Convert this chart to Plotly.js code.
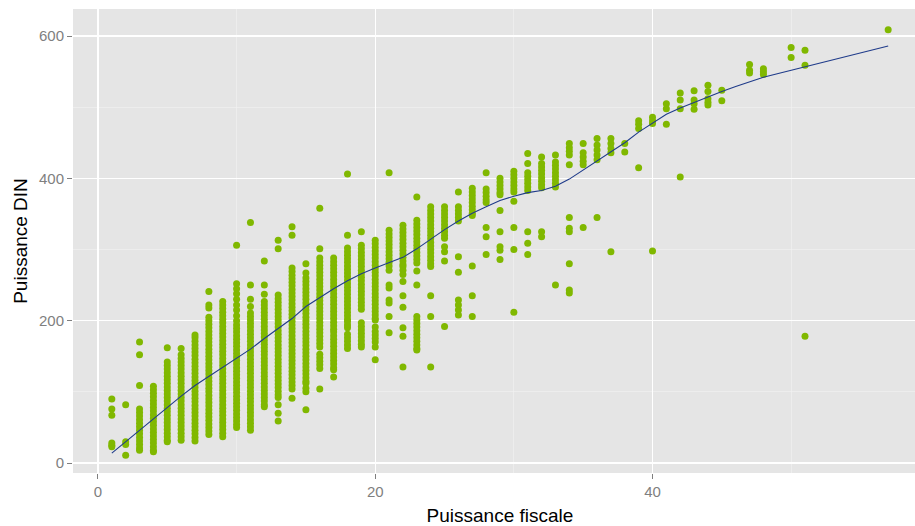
<!DOCTYPE html>
<html>
<head>
<meta charset="utf-8">
<script src="https://cdn.plot.ly/plotly-3.0.1.min.js"></script>
<style>
html,body{margin:0;padding:0;overflow:hidden;background:#fff;}
#chart{width:927px;height:526px;}
</style>
</head>
<body>
<div id="chart"></div>
<script>
// Puissance fiscale values present in the data
const fiscal = [1,2,3,4,5,6,7,8,9,10,11,12,13,14,15,16,17,18,19,20,21,22,23,24,25,26,27,28,29,30,31,32,33,34,35,36,37,38,39,40,41,42,43,44,45,47,48,50,51,57];
// Puissance DIN values observed for each fiscal value (same order)
const din = [
  [90,76,67,28,25,23],
  [82,30,26,11],
  [170,152,109,76,71,66,61,56,51,46,41,36,31,26,21,18],
  [108,103,98,93,88,83,78,73,68,63,58,53,48,43,38,33,28,23,18,16],
  [162,142,137,132,127,122,117,112,107,102,97,92,87,82,77,72,67,62,57,52,47,42,37,32,30],
  [161,152,147,142,137,132,127,122,117,112,107,102,97,92,87,82,77,72,67,62,57,52,47,42,37,32],
  [180,176,171,166,161,156,151,146,141,136,131,126,121,116,111,106,101,96,91,86,81,76,71,66,61,56,51,46,41,36,31],
  [241,222,218,205,200,195,190,185,180,175,170,165,160,155,150,145,140,135,130,125,120,115,110,105,100,95,90,85,80,75,70,65,60,55,50,45,40],
  [227,222,217,212,207,202,197,192,187,182,177,172,167,162,157,152,147,142,137,132,127,122,117,112,107,102,97,92,87,82,77,72,67,62,57,52,47,42,37],
  [306,252,245,238,230,222,215,207,200,194,189,184,179,174,169,164,159,154,149,144,139,134,129,124,119,114,109,104,99,94,89,84,79,74,69,64,59,54,50],
  [338,250,230,220,211,206,201,196,191,186,181,176,171,166,161,156,151,146,141,136,131,126,121,116,111,106,101,96,91,86,81,76,71,66,61,56,51,46],
  [284,250,237,227,222,217,212,207,202,197,192,187,182,177,172,167,162,157,152,147,142,137,132,127,122,117,112,107,102,97,92,87,82,79],
  [313,301,236,231,226,221,216,211,206,201,196,191,186,181,176,171,166,161,156,151,146,141,136,131,126,121,116,111,106,101,96,92,82,70,59],
  [332,320,274,269,264,259,254,249,244,239,234,229,224,219,214,209,204,199,194,189,184,179,174,169,164,159,154,149,144,139,134,129,124,119,114,109,104,91],
  [280,267,260,255,250,245,240,235,230,225,220,215,210,205,200,195,190,185,180,175,170,165,160,155,150,145,140,135,130,125,120,115,112,105,100,75],
  [358,301,288,283,278,273,268,263,258,253,248,243,238,233,228,223,218,213,208,203,198,193,188,183,178,173,168,163,153,148,143,138,133,104],
  [288,283,278,273,268,263,258,253,248,243,238,233,228,223,218,213,208,203,198,193,188,184,179,174,169,164,159,154,149,144,139,134,131,121],
  [406,320,302,297,292,287,282,277,272,267,262,257,252,247,242,237,232,227,222,217,212,207,202,199,194,190,181,176,171,166,161],
  [325,306,301,296,291,286,281,276,271,266,261,256,251,246,241,236,231,226,221,216,197,192,187,182,177,172,167,163],
  [313,308,303,298,293,288,283,278,273,268,263,258,253,248,243,238,233,228,223,218,213,208,203,201,191,185,180,175,170,163,145],
  [408,327,322,317,312,307,302,297,292,287,282,277,271,250,246,229,225,206,183],
  [334,329,324,319,314,309,304,299,294,289,284,279,276,271,265,255,235,219,190,178,135],
  [374,341,336,331,326,321,316,311,306,301,296,291,286,281,270,250,206,201,196,191,186,181,176,171,166,161,159],
  [360,355,350,345,340,335,330,325,320,315,310,305,300,295,290,285,280,276,235,206,135],
  [360,355,350,345,340,335,330,325,320,316,304,297,284,192],
  [381,360,355,350,345,340,290,268,229,222,215,208],
  [386,381,376,371,366,361,356,351,348,277,235,206],
  [408,385,380,375,370,366,331,318,293],
  [400,395,390,385,380,377,355,325,304,299,286],
  [410,405,400,395,390,385,381,368,331,300,212],
  [435,421,408,403,398,393,388,383,325,309,293],
  [430,421,416,411,406,401,396,391,387,325,318],
  [433,423,418,413,408,403,398,393,388,250],
  [449,443,438,433,419,345,330,325,280,243,239],
  [449,436,430,424,419,331],
  [456,447,440,433,426,345],
  [456,449,442,436,297],
  [449,437],
  [481,476,470,415],
  [486,481,477,298],
  [505,498,476],
  [520,510,498,402],
  [523,510,505,497],
  [531,522,512,507,503],
  [524,509],
  [560,552,548],
  [554,550,546],
  [584,570],
  [580,559,178],
  [609]
];
// Smoothed trend
const smoothX = [1,2,3,4,5,6,7,8,9,10,11,12,13,14,15,16,17,18,19,20,21,22,23,24,25,26,27,28,29,30,31,32,33,34,35,36,37,38,39,40,41,42,43,44,45,46,47,48,49,50,51,52,53,54,55,56,57];
const smoothY = [14,30,46,62,79,94,109,122,135,148,160,175,189,203,220,233,245,256,266,274,282,289,301,315,328,340,351,360,369,375,380,383,389,399,412,424,437,450,465,478,490,499,507,514,522,529,536,542,547,552,557,562,566,571,576,581,586];

const xTicks = [0,20,40];
const yTicks = [0,200,400,600];

const px = [], py = [];
fiscal.forEach((f,i)=>{ din[i].forEach(v=>{ px.push(f); py.push(v); }); });

const traces = [
  {x:px, y:py, type:'scatter', mode:'markers',
   marker:{color:'#80B800', size:7}, hoverinfo:'x+y'},
  {x:smoothX, y:smoothY, type:'scatter', mode:'lines',
   line:{color:'#1F3B8A', width:1.1}}
];

const layout = {
  width:927, height:526,
  margin:{l:73, r:0, t:9, b:53},
  paper_bgcolor:'#FFFFFF', plot_bgcolor:'#E5E5E5',
  showlegend:false,
  font:{family:'"Liberation Sans", Arial, sans-serif'},
  xaxis:{
    range:[-1.8,59.8], tickvals:xTicks, ticktext:xTicks.map(String),
    showgrid:true, gridcolor:'#FFFFFF', gridwidth:1.2, zeroline:false,
    minor:{dtick:10, tick0:0, showgrid:true, gridcolor:'#F2F2F2', gridwidth:0.6, ticks:''},
    ticks:'outside', ticklen:5, tickcolor:'#7F7F7F', tickwidth:1,
    tickfont:{size:15, color:'#7F7F7F'},
    title:{text:'Puissance fiscale', font:{size:19, color:'#000000'}, standoff:11},
    showline:false
  },
  yaxis:{
    range:[-14,638], tickvals:yTicks, ticktext:yTicks.map(String),
    showgrid:true, gridcolor:'#FFFFFF', gridwidth:1.2, zeroline:false,
    minor:{dtick:100, tick0:0, showgrid:true, gridcolor:'#F2F2F2', gridwidth:0.6, ticks:''},
    ticks:'outside', ticklen:5, tickcolor:'#7F7F7F', tickwidth:1,
    tickfont:{size:15, color:'#7F7F7F'},
    title:{text:'Puissance DIN', font:{size:19, color:'#000000'}, standoff:6},
    showline:false
  }
};

Plotly.newPlot('chart', traces, layout, {displayModeBar:false, staticPlot:true});
</script>
</body>
</html>
